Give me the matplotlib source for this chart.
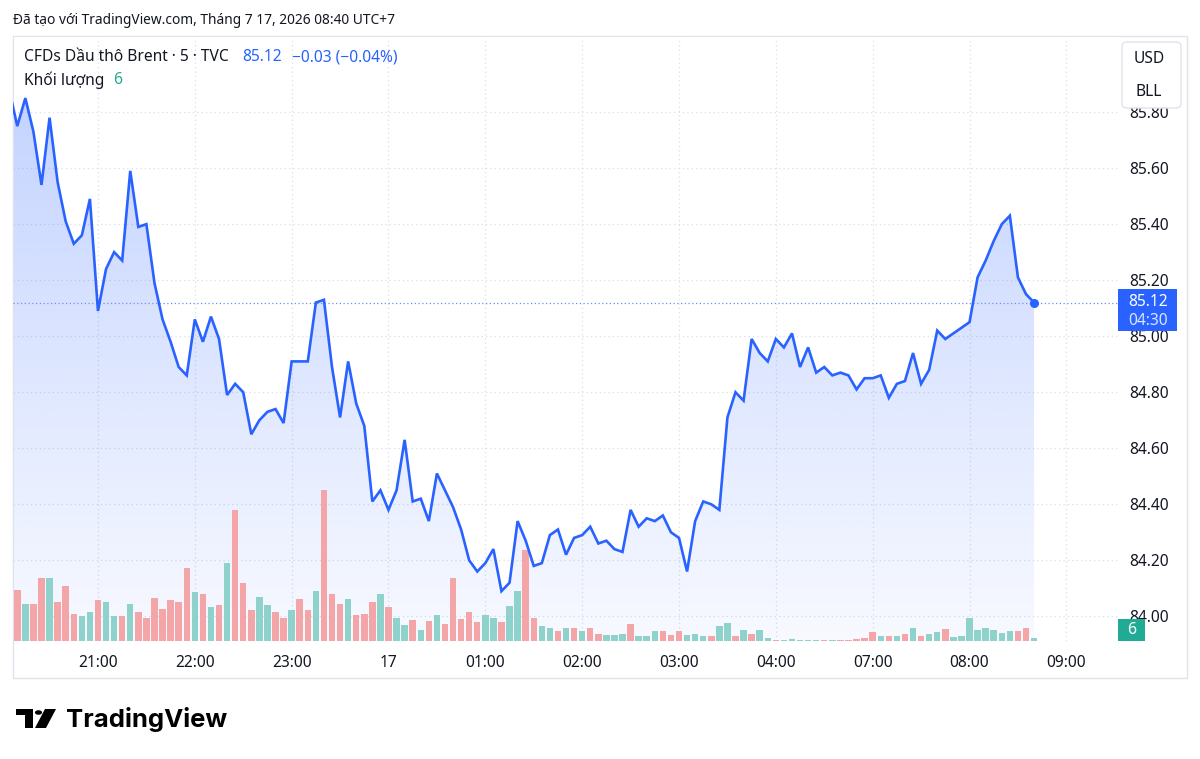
import numpy as np
import matplotlib
matplotlib.use("Agg")
import matplotlib.pyplot as plt
import matplotlib.transforms as mtransforms
from matplotlib.patches import Polygon, Rectangle, FancyBboxPatch, Circle

# 5-minute closes, Brent CFD (first value sits just left of the visible window)
prices = [
    85.88, 85.75, 85.85, 85.73, 85.54, 85.78, 85.55, 85.41, 85.33, 85.36, 85.49,
    85.09, 85.24, 85.30, 85.27, 85.59, 85.39, 85.40, 85.19, 85.06, 84.98, 84.89,
    84.86, 85.06, 84.98, 85.07, 84.99, 84.79, 84.83, 84.80, 84.65, 84.70, 84.73,
    84.74, 84.69, 84.91, 84.91, 84.91, 85.12, 85.13, 84.89, 84.71, 84.91, 84.76,
    84.68, 84.41, 84.45, 84.38, 84.45, 84.63, 84.41, 84.42, 84.34, 84.51, 84.45,
    84.39, 84.31, 84.20, 84.16, 84.19, 84.24, 84.09, 84.12, 84.34, 84.27, 84.18,
    84.19, 84.29, 84.31, 84.22, 84.28, 84.29, 84.32, 84.26, 84.27, 84.24, 84.23,
    84.38, 84.32, 84.35, 84.34, 84.36, 84.30, 84.28, 84.16, 84.34, 84.41, 84.40,
    84.38, 84.71, 84.80, 84.77, 84.99, 84.94, 84.91, 84.99, 84.96, 85.01, 84.89,
    84.96, 84.87, 84.89, 84.86, 84.87, 84.86, 84.81, 84.85, 84.85, 84.86, 84.78,
    84.83, 84.84, 84.94, 84.83, 84.88, 85.02, 84.99, 85.01, 85.03, 85.05, 85.21,
    85.27, 85.34, 85.40, 85.43, 85.21, 85.15, 85.12,
]
volumes = [
    80, 112, 82, 81, 139, 139, 86, 122, 60, 54, 63,
    91, 85, 54, 54, 82, 64, 51, 94, 70, 91, 86,
    160, 108, 104, 75, 79, 172, 289, 128, 68, 97, 79,
    63, 50, 68, 92, 68, 110, 333, 103, 81, 92, 57,
    59, 85, 104, 75, 51, 35, 46, 24, 43, 57, 37,
    139, 49, 64, 41, 57, 51, 41, 76, 110, 201, 50,
    34, 29, 21, 29, 29, 21, 28, 15, 13, 14, 15,
    37, 12, 12, 21, 21, 14, 21, 14, 15, 10, 10,
    32, 39, 12, 24, 15, 24, 6, 3, 3, 4, 3,
    3, 3, 3, 3, 3, 3, 4, 6, 19, 10, 12,
    10, 15, 29, 12, 15, 19, 26, 8, 10, 50, 25,
    29, 25, 18, 21, 21, 28, 6,
]
# candle direction for volume colour: u = up, d = down
vol_dir = list(
    "d"
    "duddudddu" "udu" "udud" "dddd" "ddud" "udud" "dduu" "ddud" "dudd" "dudd" "dudu"
    "udud" "uddd" "dduu" "duud" "duud" "udud" "duuu" "duuu" "dddu" "uudu" "udud"
    "uudu" "u"
    "uuud" "uddd" "ddud" "udud" "uudu" "uuuu" "uuud" "du"
)
hour_pos = [10, 22, 34, 46, 58, 70, 82, 94, 106, 118, 130]
hour_labels = ["21:00", "22:00", "23:00", "17", "01:00", "02:00",
               "03:00", "04:00", "07:00", "08:00", "09:00"]
price_ticks = [84.0, 84.2, 84.4, 84.6, 84.8, 85.0, 85.2, 85.4, 85.6, 85.8]

W, H = 1200, 759
BLUE = "#2962ff"
TEXT = "#131722"
GRID = "#dcdfe6"
UP, DOWN = "#8fd1cb", "#f4a5a7"
FS = 11.2

plt.rcParams["font.family"] = ["Noto Sans", "DejaVu Sans"]

fig = plt.figure(figsize=(W / 100, H / 100), dpi=100)
fig.patch.set_facecolor("white")


def fx(px):
    return px / W


def fy(py):
    return 1 - py / H


# chart frame
ax_l, ax_r, ax_t, ax_b = 13, 1118, 37, 641
ax = fig.add_axes([fx(ax_l), fy(ax_b), fx(ax_r - ax_l), (ax_b - ax_t) / H])
fig.add_artist(Rectangle((fx(13), fy(678)), fx(1174), (678 - 36) / H,
                         transform=fig.transFigure, fill=False,
                         edgecolor="#e0e3eb", lw=1.0, zorder=0))

x = np.arange(len(prices)) - 1
y_lo, y_hi = 83.912, 86.068
x_lo, x_hi = -0.53, 136.4

# gradient area under the line
verts = [(x[0], y_lo)] + list(zip(x, prices)) + [(x[-1], y_lo)]
area = Polygon(verts, closed=True, facecolor="none", edgecolor="none")
ax.add_patch(area)
grad = np.zeros((256, 1, 4))
grad[:, 0, :3] = matplotlib.colors.to_rgb(BLUE)
grad[:, 0, 3] = np.linspace(0.035, 0.28, 256)
im = ax.imshow(grad, extent=[x_lo, x_hi, y_lo, max(prices)], aspect="auto",
               origin="lower", zorder=1)
im.set_clip_path(area)

# volume bars on an overlay scale (volume 0 at the bottom of the pane)
VOL_TOP = 1328
vol_tr = mtransforms.blended_transform_factory(
    ax.transData, mtransforms.Affine2D().scale(1, 1 / VOL_TOP) + ax.transAxes)
bar_colors = [UP if d == "u" else DOWN for d in vol_dir]
ax.bar(x, volumes, width=0.8, color=bar_colors, transform=vol_tr, zorder=3,
       linewidth=0)

# price line
ax.plot(x, prices, color=BLUE, lw=1.9, zorder=5, solid_joinstyle="miter")
ax.plot(x[-1], prices[-1], "o", color=BLUE, ms=5.5, zorder=6)
ax.axhline(prices[-1], color="#6d8ff5", lw=0.9, ls=(0, (1, 2)), zorder=4)

ax.set_xlim(x_lo, x_hi)
ax.set_ylim(y_lo, y_hi)
ax.set_yticks(price_ticks)
ax.set_yticklabels([f"{p:.2f}" for p in price_ticks])
ax.yaxis.tick_right()
ax.set_xticks(hour_pos)
ax.set_xticklabels(hour_labels)
ax.tick_params(axis="y", length=0, pad=8, labelsize=FS, labelcolor=TEXT)
ax.tick_params(axis="x", length=0, pad=10, labelsize=FS, labelcolor=TEXT)
for lbl in ax.get_xticklabels():
    if lbl.get_text() == "17":
        lbl.set_fontweight("bold")
ax.grid(True, color=GRID, lw=0.9, ls=(0, (1, 2.5)), zorder=0)
ax.set_axisbelow(True)
for s in ax.spines.values():
    s.set_visible(False)
ax.spines["left"].set_visible(True)
ax.spines["left"].set_color("#e0e3eb")

# last-price label on the price scale
blend = mtransforms.blended_transform_factory(ax.transAxes, ax.transData)
ax.add_patch(Rectangle((1.0, prices[-1] - 0.102), 0.0534, 0.15, transform=blend,
                       facecolor=BLUE, edgecolor="none", clip_on=False, zorder=7))
ax.text(1.0275, prices[-1] + 0.003, f"{prices[-1]:.2f}", transform=blend,
        ha="center", va="center", color="white", fontsize=FS, zorder=8)
ax.text(1.0275, prices[-1] - 0.066, "04:30", transform=blend,
        ha="center", va="center", color="#dbe4ff", fontsize=FS, zorder=8)

# last-volume label
ax.add_patch(Rectangle((1.0, 0.0), 0.0244, 0.037, transform=ax.transAxes,
                       facecolor="#22ab94", edgecolor="none", clip_on=False,
                       zorder=7))
ax.text(1.0122, 0.0185, str(volumes[-1]), transform=ax.transAxes, ha="center",
        va="center", color="white", fontsize=FS, zorder=8)

# currency / unit box
fig.add_artist(FancyBboxPatch((fx(1122), fy(108)), fx(59), 66 / H,
                              boxstyle="round,pad=0,rounding_size=0.005",
                              transform=fig.transFigure, facecolor="white",
                              edgecolor="#e0e3eb", lw=1.0, zorder=10))
fig.text(fx(1149), fy(59), "USD", ha="center", va="center", fontsize=FS,
         color=TEXT, zorder=11)
fig.text(fx(1149), fy(92), "BLL", ha="center", va="center", fontsize=FS,
         color=TEXT, zorder=11)

# header texts
fig.text(fx(13), fy(20), "Đã tạo với TradingView.com, Tháng 7 17, 2026 08:40 UTC+7",
         ha="left", va="center", fontsize=9.9, color=TEXT)
fig.text(fx(24), fy(57), "CFDs Dầu thô Brent · 5 · TVC", ha="left", va="center",
         fontsize=FS, color=TEXT)
fig.text(fx(242), fy(57), "85.12", ha="left", va="center", fontsize=FS,
         color=BLUE)
fig.text(fx(292), fy(57), "−0.03 (−0.04%)", ha="left", va="center",
         fontsize=FS, color=BLUE)
fig.text(fx(24), fy(80), "Khối lượng", ha="left", va="center", fontsize=FS,
         color=TEXT)
fig.text(fx(113), fy(80), "6", ha="left", va="center", fontsize=FS,
         color="#22ab94")

# TradingView logo
logo = dict(transform=fig.transFigure, facecolor="#000000", edgecolor="none")
fig.add_artist(Polygon([(fx(16), fy(709)), (fx(33), fy(709)), (fx(33), fy(728)),
                        (fx(25), fy(728)), (fx(25), fy(715)), (fx(16), fy(715))],
                       closed=True, **logo))
fig.add_artist(Circle((fx(38.5), fy(712.5)), 3.6 / W, **logo))
fig.add_artist(Polygon([(fx(45), fy(709)), (fx(56), fy(709)), (fx(46), fy(728)),
                        (fx(35), fy(728))], closed=True, **logo))
fig.text(fx(66), fy(719), "TradingView", ha="left", va="center", fontsize=18.5,
         fontweight="bold", color="#000000", family=["Inter", "DejaVu Sans"])

fig.savefig("out.png", dpi=100)
